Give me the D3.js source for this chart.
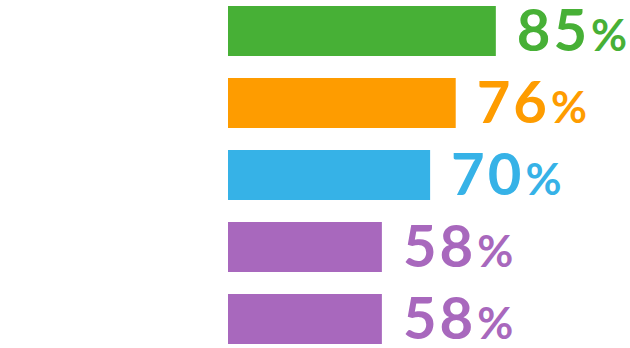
<!DOCTYPE html>
<html>
<head>
<meta charset="utf-8">
<script src="https://cdn.jsdelivr.net/npm/d3@7"></script>
<style>
  html, body { margin: 0; padding: 0; background: #fff; }
  svg { display: block; }
</style>
</head>
<body>
<script>
(function() {
    const categories = ['a', 'b', 'c', 'd', 'e'];
    const values = [85, 76, 70, 58, 58];
    const colors = ['#47b036', '#fe9c00', '#36b2e7', '#a868bd', '#a868bd'];

    const width = 630,
          height = 348,
          left = 228;

    let svg = d3.select('body')
                .append('svg')
                .attr('width', width)
                .attr('height', height);

    let x = d3.scalePow()
              .exponent(1.45)
              .domain([0, 100])
              .range([0, 339]);

    let y = d3.scaleBand()
              .domain(categories)
              .range([6, 344])
              .paddingInner(22 / 72)
              .paddingOuter(0);

    let rows = svg.selectAll('g.row')
                  .data(values)
                  .enter()
                  .append('g')
                  .attr('class', 'row')
                  .attr('transform', (d, i) => `translate(0,${y(categories[i])})`);

    rows.append('rect')
        .attr('x', left)
        .attr('y', 0)
        .attr('width', d => x(d))
        .attr('height', y.bandwidth())
        .attr('fill', (d, i) => colors[i]);

    let label = rows.append('text')
        .attr('x', d => left + x(d) + 21)
        .attr('y', 44.5)
        .attr('fill', (d, i) => colors[i])
        .style('font-family', 'Lato, sans-serif')
        .style('font-weight', 700);

    label.append('tspan')
         .style('font-size', '58px')
         .style('letter-spacing', '3px')
         .text(d => d);

    label.append('tspan')
         .attr('dx', 1)
         .style('font-size', '44px')
         .text('%');
})();
</script>
</body>
</html>
